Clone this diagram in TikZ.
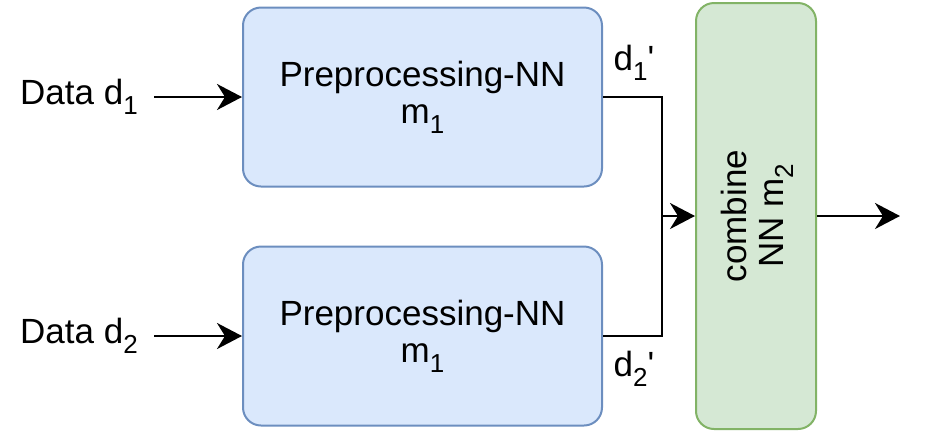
\documentclass[tikz,border=0pt]{standalone}
\usepackage{fontspec}
\setmainfont{Liberation Sans}
\usetikzlibrary{arrows.meta}
\definecolor{blueFill}{HTML}{DAE8FC}
\definecolor{blueLine}{HTML}{6C8EBF}
\definecolor{greenFill}{HTML}{D5E8D4}
\definecolor{greenLine}{HTML}{82B366}
\newcommand{\lowidx}[1]{\raisebox{-0.28em}{\fontsize{13}{13}\selectfont #1}}
\tikzset{
    prebox/.style={rectangle,draw=blueLine,fill=blueFill,line width=1pt,rounded corners=9pt,
        minimum width=179.5pt,minimum height=89.5pt,align=center},
    combox/.style={rectangle,draw=greenLine,fill=greenFill,line width=1pt,rounded corners=9pt,
        minimum width=60pt,minimum height=213pt},
    flow/.style={draw,line width=1.2pt,-{Stealth[length=12.5pt,width=13pt,inset=4pt]}}
}
\begin{document}
\begin{tikzpicture}[x=0.5pt,y=-0.5pt,font=\fontsize{17.5}{18.5}\selectfont]
        \useasboundingbox (0,0) rectangle (928,436);
        \node[prebox] (pre1) at (422.5, 97) {Preprocessing-NN\\m\lowidx{1}};
        \node[prebox] (pre2) at (422.5, 336) {Preprocessing-NN\\m\lowidx{1}};
        \node[combox] (comb) at (756, 216) {};
        \node[rotate=90,align=center] (combtext) at (757, 216) {combine\\NN m\lowidx{2}};
        \begin{scope}[every node/.style={inner sep=8pt}]
            \node (in1) at (79, 97) {Data d\lowidx{1}};
            \node (in2) at (79, 336) {Data d\lowidx{2}};
        \end{scope}
        \node (lab1) at (634, 63) {d\lowidx{1}\textquotesingle};
        \node (lab2) at (634, 369) {d\lowidx{2}\textquotesingle};
        \coordinate (join) at (662, 216);
        \coordinate (out) at (900, 216);
        \begin{scope}[line width=1.2pt]
            \draw (pre1.east) -| (join);
            \draw (pre2.east) -| (join);
        \end{scope}
        \path
            (in1.east |- pre1.west) edge [flow] (pre1.west)
            (in2.east |- pre2.west) edge [flow] (pre2.west)
            (join) edge [flow] (comb)
            (comb) edge [flow] (out);
    \end{tikzpicture}
\end{document}
